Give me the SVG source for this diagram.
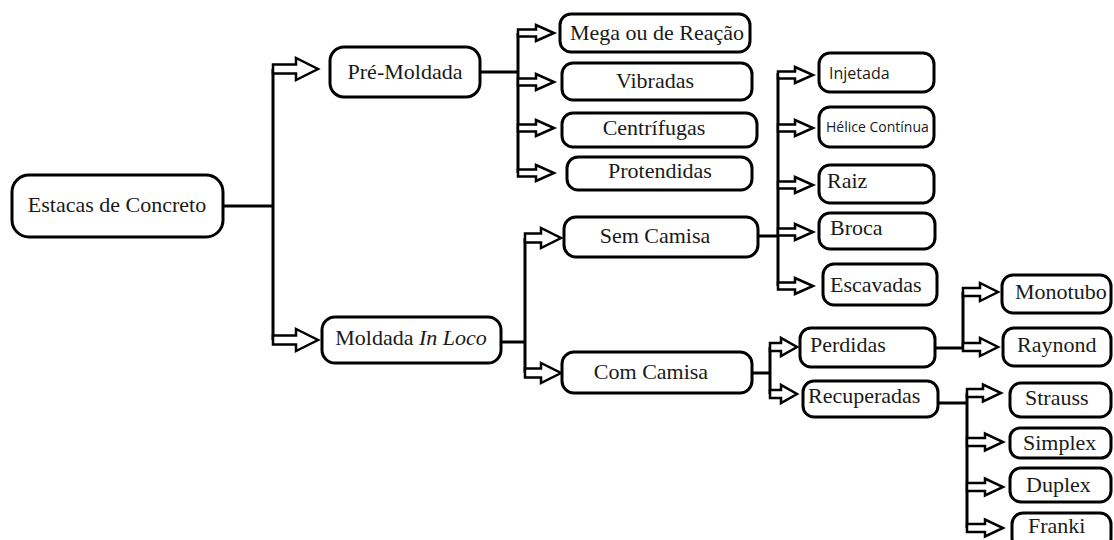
<svg xmlns="http://www.w3.org/2000/svg" width="1114" height="540" viewBox="0 0 1114 540">
<defs>
<style>
.box{fill:#fff;stroke:#000;stroke-width:3}
.ln{fill:none;stroke:#000;stroke-width:3}
.ar{fill:#fff;stroke:#000;stroke-width:2.5;stroke-linejoin:miter}
.t{font-family:"Liberation Serif","Times New Roman",serif;font-size:22px;fill:#1a1a1a}
.s{font-family:"Open Sans","Liberation Sans",sans-serif;fill:#1a1a1a}
.c{text-anchor:middle}
</style>
</defs>
<rect width="1114" height="540" fill="#fff"/>
<g id="connectors">
<path class="ln" d="M223 206H273M273 69V340"/>
<path class="ln" d="M480 72H518M518 33V173"/>
<path class="ln" d="M501 342H525M525 238V373"/>
<path class="ln" d="M758 236H778M778 73V286"/>
<path class="ln" d="M752 373H770M770 347V394"/>
<path class="ln" d="M935 348H963M963 292V348"/>
<path class="ln" d="M938 403H967M967 393V528"/>
<path class="ar" d="M273 64.5L296 64.5L296 58L318 69L296 80L296 73.5L273 73.5Z"/>
<path class="ar" d="M273 335.5L296 335.5L296 329L318 340L296 351L296 344.5L273 344.5Z"/>
<path class="ar" d="M525 233.5L541 233.5L541 228L561 238L541 248L541 242.5L525 242.5Z"/>
<path class="ar" d="M525 368.5L541 368.5L541 363L561 373L541 383L541 377.5L525 377.5Z"/>
<path class="ar" d="M518 29.5L536 29.5L536 25L554 33L536 41L536 36.5L518 36.5Z"/>
<path class="ar" d="M518 78.5L536 78.5L536 74L554 82L536 90L536 85.5L518 85.5Z"/>
<path class="ar" d="M518 124.5L536 124.5L536 120L554 128L536 136L536 131.5L518 131.5Z"/>
<path class="ar" d="M518 169.5L536 169.5L536 165L554 173L536 181L536 176.5L518 176.5Z"/>
<path class="ar" d="M778 71.5L795 71.5L795 67L813 75L795 83L795 78.5L778 78.5Z"/>
<path class="ar" d="M778 124.5L795 124.5L795 120L813 128L795 136L795 131.5L778 131.5Z"/>
<path class="ar" d="M778 181.5L795 181.5L795 177L813 185L795 193L795 188.5L778 188.5Z"/>
<path class="ar" d="M778 228.5L795 228.5L795 224L813 232L795 240L795 235.5L778 235.5Z"/>
<path class="ar" d="M778 282.5L795 282.5L795 278L813 286L795 294L795 289.5L778 289.5Z"/>
<path class="ar" d="M770 343L781 343L781 338L797 347L781 356L781 351L770 351Z"/>
<path class="ar" d="M770 390L781 390L781 385L797 394L781 403L781 398L770 398Z"/>
<path class="ar" d="M963 288L980 288L980 283L998 292L980 301L980 296L963 296Z"/>
<path class="ar" d="M963 343L980 343L980 338L998 347L980 356L980 351L963 351Z"/>
<path class="ar" d="M967 389L983 389L983 384.5L1001 393L983 401.5L983 397L967 397Z"/>
<path class="ar" d="M967 438L985 438L985 433.5L1003 442L985 450.5L985 446L967 446Z"/>
<path class="ar" d="M967 483L985 483L985 478.5L1003 487L985 495.5L985 491L967 491Z"/>
<path class="ar" d="M967 524L985 524L985 519.5L1003 528L985 536.5L985 532L967 532Z"/>
</g>
<g id="estacas"><rect class="box" x="12" y="175" width="211" height="62" rx="17"/><text class="t c" x="117" y="212">Estacas de Concreto</text></g>
<g id="pre-moldada"><rect class="box" x="330" y="47" width="150" height="50" rx="14"/><text class="t c" x="405" y="79">Pré-Moldada</text></g>
<g id="moldada-in-loco"><rect class="box" x="322" y="317" width="179" height="46" rx="13"/><text class="t c" x="411" y="345">Moldada <tspan font-style="italic">In Loco</tspan></text></g>
<g id="mega"><rect class="box" x="560" y="14" width="190" height="38" rx="11"/><text class="t c" x="657" y="40">Mega ou de Reação</text></g>
<g id="vibradas"><rect class="box" x="562" y="63" width="190" height="37" rx="11"/><text class="t c" x="655" y="88">Vibradas</text></g>
<g id="centrifugas"><rect class="box" x="562" y="113" width="195" height="34" rx="11"/><text class="t c" x="654" y="135">Centrífugas</text></g>
<g id="protendidas"><rect class="box" x="567" y="157" width="185" height="33" rx="11"/><text class="t c" x="660" y="178">Protendidas</text></g>
<g id="injetada"><rect class="box" x="819" y="53" width="115" height="39" rx="11"/><text class="s" x="829" y="79" font-size="16">Injetada</text></g>
<g id="helice"><rect class="box" x="819" y="107" width="115" height="40" rx="11"/><text class="s" x="826" y="132" font-size="14">Hélice Contínua</text></g>
<g id="raiz"><rect class="box" x="819" y="165" width="115" height="38" rx="11"/><text class="t" x="827" y="188">Raiz</text></g>
<g id="broca"><rect class="box" x="819" y="213" width="116" height="36" rx="11"/><text class="t" x="830" y="235">Broca</text></g>
<g id="escavadas"><rect class="box" x="823" y="264" width="114" height="41" rx="11"/><text class="t" x="830" y="292">Escavadas</text></g>
<g id="sem-camisa"><rect class="box" x="564" y="217" width="194" height="40" rx="12"/><text class="t c" x="655" y="243">Sem Camisa</text></g>
<g id="com-camisa"><rect class="box" x="562" y="352" width="190" height="41" rx="12"/><text class="t c" x="651" y="379">Com Camisa</text></g>
<g id="perdidas"><rect class="box" x="800" y="328" width="135" height="39" rx="11"/><text class="t" x="810" y="352">Perdidas</text></g>
<g id="recuperadas"><rect class="box" x="803" y="381" width="135" height="36" rx="11"/><text class="t" x="808" y="403">Recuperadas</text></g>
<g id="monotubo"><rect class="box" x="1002" y="275" width="109" height="38" rx="11"/><text class="t" x="1015" y="299">Monotubo</text></g>
<g id="raynond"><rect class="box" x="1003" y="328" width="108" height="38" rx="11"/><text class="t" x="1017" y="352">Raynond</text></g>
<g id="strauss"><rect class="box" x="1010" y="383" width="101" height="34" rx="11"/><text class="t" x="1025" y="405">Strauss</text></g>
<g id="simplex"><rect class="box" x="1010" y="428" width="101" height="30" rx="10"/><text class="t" x="1023" y="450">Simplex</text></g>
<g id="duplex"><rect class="box" x="1010" y="468" width="101" height="34" rx="11"/><text class="t" x="1026" y="492">Duplex</text></g>
<g id="franki"><rect class="box" x="1012" y="513" width="99" height="36" rx="11"/><text class="t" x="1028" y="533">Franki</text></g>
</svg>
